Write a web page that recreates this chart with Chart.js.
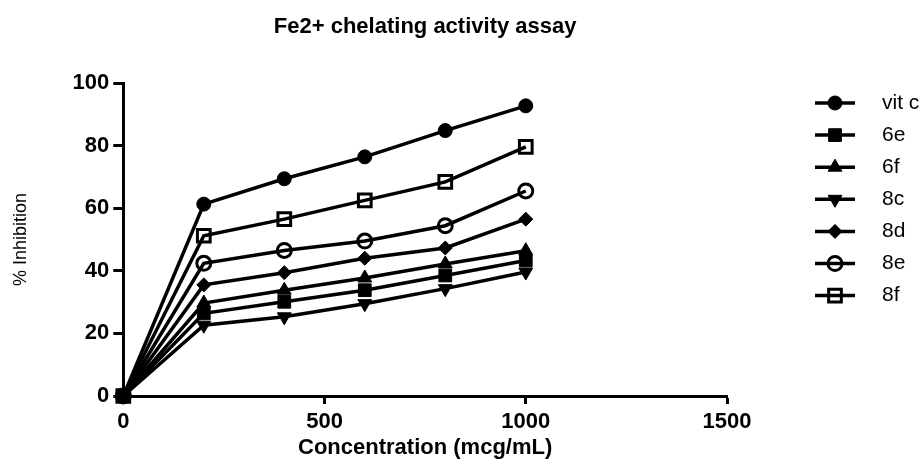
<!DOCTYPE html>
<html>
<head>
<meta charset="utf-8">
<script src="https://cdn.jsdelivr.net/npm/chart.js@4.4.1/dist/chart.umd.min.js"></script>
<style>
  html, body { margin: 0; padding: 0; background: #fff; }
  #wrap { width: 924px; height: 462px; }
</style>
</head>
<body>
<div id="wrap"><canvas id="ironChart" width="924" height="462"></canvas></div>
<script>
// Concentrations (mcg/mL) and % inhibition
const concentrations = [0, 200, 400, 600, 800, 1000];
const vitC = [0, 61.3, 69.4, 76.4, 84.8, 92.7];
const s6e = [0, 26.4, 30.1, 33.8, 38.5, 43.3];
const s6f = [0, 29.7, 33.8, 37.7, 42.2, 46.4];
const s8c = [0, 22.6, 25.3, 29.5, 34.3, 39.6];
const s8d = [0, 35.5, 39.4, 44.0, 47.3, 56.5];
const s8e = [0, 42.4, 46.5, 49.5, 54.4, 65.5];
const s8f = [0, 51.2, 56.5, 62.5, 68.4, 79.6];
const seriesNames = ["vit c", "6e", "6f", "8c", "8d", "8e", "8f"];
const xTicks = [0, 500, 1000, 1500];
const yTicks = [0, 20, 40, 60, 80, 100];

const FONT = "'Liberation Sans', Arial, Helvetica, sans-serif";

function toPoints(values) {
  return values.map((v, i) => ({ x: concentrations[i], y: v }));
}

// marker style per series (filled / open like the original)
function makeSet(label, values, style, radius, open, rotation) {
  return {
    label: label,
    data: toPoints(values),
    borderColor: "#000",
    borderWidth: 3.5,
    pointStyle: style,
    pointRadius: radius,
    pointHoverRadius: radius,
    pointRotation: rotation || 0,
    pointBorderWidth: open ? 3 : 1,
    pointBackgroundColor: open ? "rgba(0,0,0,0)" : "#000",
    pointBorderColor: "#000",
    tension: 0,
    clip: false
  };
}

const datasets = [
  makeSet(seriesNames[0], vitC, "circle", 7, false),
  makeSet(seriesNames[1], s6e, "rect", 9, false),
  makeSet(seriesNames[2], s6f, "triangle", 8, false),
  makeSet(seriesNames[3], s8c, "triangle", 8, false, 180),
  makeSet(seriesNames[4], s8d, "rectRot", 7, false),
  makeSet(seriesNames[5], s8e, "circle", 7, true),
  makeSet(seriesNames[6], s8f, "rect", 9, true)
];
datasets[1].order = -1; // filled square sits on top at the origin

// Legend drawn on the right, line + marker + name
const sideLegend = {
  id: "sideLegend",
  afterDraw(chart) {
    const ctx = chart.ctx;
    const x0 = 815, x1 = 855, textX = 882, top = 103, step = 32.1;
    ctx.save();
    chart.data.datasets.forEach((ds, i) => {
      const y = top + i * step;
      ctx.strokeStyle = "#000";
      ctx.lineWidth = 3.5;
      ctx.beginPath();
      ctx.moveTo(x0, y);
      ctx.lineTo(x1, y);
      ctx.stroke();
      ctx.fillStyle = ds.pointBackgroundColor;
      ctx.lineWidth = ds.pointBorderWidth;
      Chart.helpers.drawPoint(ctx, {
        pointStyle: ds.pointStyle,
        radius: ds.pointRadius,
        rotation: ds.pointRotation,
        borderWidth: ds.pointBorderWidth
      }, (x0 + x1) / 2, y);
      ctx.fillStyle = "#000";
      ctx.font = "21px " + FONT;
      ctx.textBaseline = "middle";
      ctx.textAlign = "left";
      ctx.fillText(ds.label, textX, y);
    });
    ctx.restore();
  }
};

const ctx = document.getElementById("ironChart").getContext("2d");
new Chart(ctx, {
  type: "line",
  data: { datasets: datasets },
  options: {
    responsive: false,
    animation: false,
    layout: { padding: { left: 0, right: 197, top: 0, bottom: 0 } },
    plugins: {
      legend: { display: false },
      tooltip: { enabled: false },
      title: {
        display: true,
        fullSize: false,
        text: "Fe2+ chelating activity assay",
        color: "#000",
        font: { family: FONT, size: 22, weight: "bold", lineHeight: 1 },
        padding: { top: 16, bottom: 45 }
      }
    },
    scales: {
      x: {
        type: "linear",
        min: 0,
        max: 1500,
        afterBuildTicks: (axis) => { axis.ticks = xTicks.map(v => ({ value: v })); },
        ticks: {
          color: "#000",
          padding: 7,
          font: { family: FONT, size: 22, weight: "bold", lineHeight: 1 },
          callback: (v) => String(v)
        },
        grid: { drawOnChartArea: false, drawTicks: true, tickLength: 8, tickWidth: 3, tickColor: "#000" },
        border: { display: true, width: 3, color: "#000" },
        title: {
          display: true,
          text: "Concentration (mcg/mL)",
          color: "#000",
          font: { family: FONT, size: 22, weight: "bold", lineHeight: 1 },
          padding: { top: -3, bottom: 3 }
        }
      },
      y: {
        min: 0,
        max: 100,
        afterBuildTicks: (axis) => { axis.ticks = yTicks.map(v => ({ value: v })); },
        ticks: {
          color: "#000",
          padding: 4,
          font: { family: FONT, size: 22, weight: "bold" },
          callback: (v) => String(v)
        },
        grid: { drawOnChartArea: false, drawTicks: true, tickLength: 10, tickWidth: 3, tickColor: "#000" },
        border: { display: true, width: 3, color: "#000" },
        title: {
          display: true,
          text: "% Inhibition",
          color: "#000",
          font: { family: FONT, size: 18 },
          padding: { top: 10, bottom: 37 }
        }
      }
    }
  },
  plugins: [sideLegend]
});
</script>
</body>
</html>
